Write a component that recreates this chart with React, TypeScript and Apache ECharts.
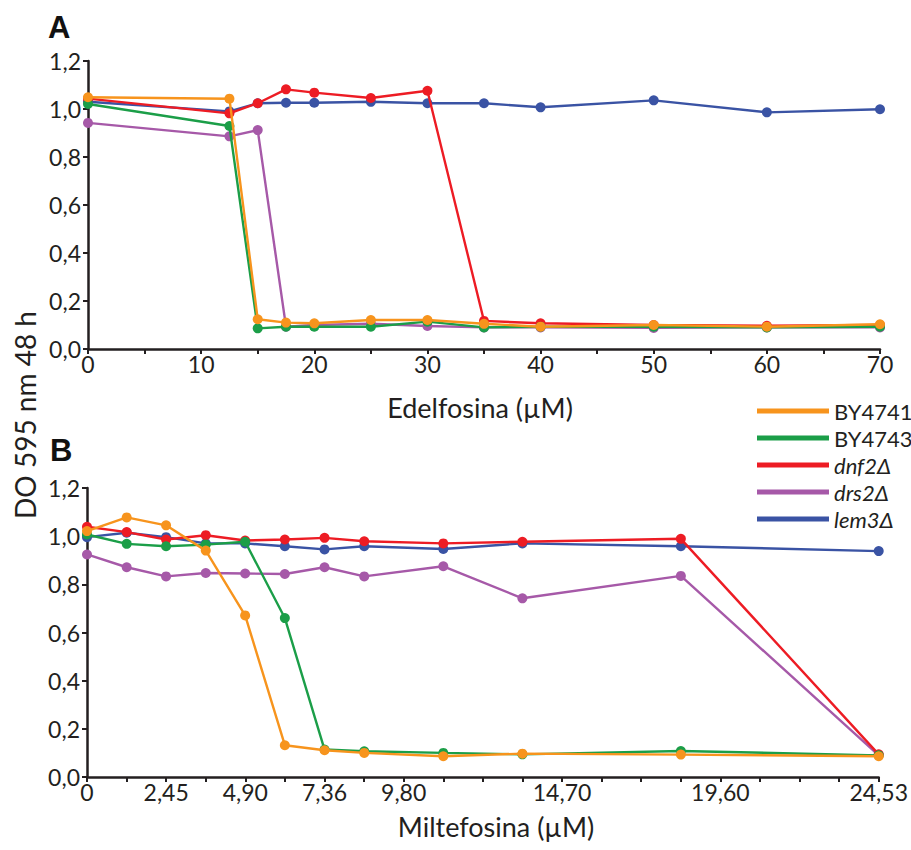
import React, { useEffect, useRef } from "react";
import * as echarts from "echarts";

const seriesNames = ["BY4741", "BY4743", "dnf2Δ", "drs2Δ", "lem3Δ"];
const seriesColors = ["#F7941D", "#1B9E48", "#ED1C24", "#A659A8", "#3A53A4"];

// Panel A: Edelfosina
const edelConc = [0, 12.5, 15, 17.5, 20, 25, 30, 35, 40, 50, 60, 70];
const edelBY4741 = [1.049, 1.043, 0.124, 0.11, 0.107, 0.121, 0.121, 0.105, 0.093, 0.1, 0.093, 0.103];
const edelBY4743 = [1.021, 0.929, 0.086, 0.093, 0.093, 0.093, 0.114, 0.09, 0.093, 0.093, 0.09, 0.093];
const edelDnf2 = [1.043, 0.982, 1.024, 1.082, 1.068, 1.046, 1.076, 0.117, 0.107, 0.1, 0.097, 0.1];
const edelDrs2 = [0.942, 0.886, 0.912, 0.093, 0.1, 0.105, 0.096, 0.09, 0.09, 0.088, 0.09, 0.09];
const edelLem3 = [1.03, 0.99, 1.024, 1.026, 1.026, 1.03, 1.024, 1.024, 1.007, 1.036, 0.986, 0.999];

// Panel B: Miltefosina
const miltConc = [0, 1.23, 2.45, 3.68, 4.9, 6.13, 7.36, 8.59, 11.04, 13.49, 18.4, 24.53];
const miltBY4741 = [1.021, 1.078, 1.045, 0.94, 0.671, 0.132, 0.111, 0.1, 0.086, 0.097, 0.093, 0.086];
const miltBY4743 = [1.007, 0.968, 0.958, 0.965, 0.977, 0.66, 0.114, 0.107, 0.1, 0.094, 0.108, 0.09];
const miltDnf2 = [1.039, 1.017, 0.986, 1.004, 0.982, 0.986, 0.993, 0.979, 0.97, 0.977, 0.989, 0.094];
const miltDrs2 = [0.924, 0.871, 0.833, 0.847, 0.845, 0.843, 0.871, 0.833, 0.875, 0.742, 0.835, 0.09];
const miltLem3 = [0.996, 1.014, 0.996, 0.97, 0.97, 0.958, 0.945, 0.958, 0.947, 0.97, 0.958, 0.938];

const miltMax = 24.53;
const miltTickCount = 20;
const miltTickLabels: Record<number, string> = {
  0: "0",
  2: "2,45",
  4: "4,90",
  6: "7,36",
  8: "9,80",
  12: "14,70",
  16: "19,60",
  20: "24,53",
};

const FONT = "Lato, 'Open Sans', sans-serif";
const INK = "#231F20";

function zip(xs: number[], ys: number[]) {
  return xs.map((x, i) => [x, ys[i]]);
}

export default function App() {
  const ref = useRef<HTMLDivElement>(null);
  useEffect(() => {
    if (!ref.current) return;
    const chart = echarts.init(ref.current, undefined, { renderer: "svg" });
    const step = miltMax / miltTickCount;

    const yAxisCommon = {
      type: "value",
      min: 0,
      max: 1.2,
      interval: 0.2,
      axisLine: { show: true, lineStyle: { color: INK, width: 2.5 } },
      axisTick: { show: true, length: 5, lineStyle: { color: INK, width: 2 } },
      axisLabel: {
        color: INK,
        fontFamily: FONT,
        fontSize: 23,
        margin: 7,
        formatter: (v: number) => v.toFixed(1).replace(".", ","),
      },
      splitLine: { show: false },
    };

    const edelSets = [edelBY4741, edelBY4743, edelDnf2, edelDrs2, edelLem3];
    const miltSets = [miltBY4741, miltBY4743, miltDnf2, miltDrs2, miltLem3];
    const drawOrder = [4, 3, 2, 1, 0];
    const series: any[] = [];
    [edelSets, miltSets].forEach((sets, panel) => {
      const xs = panel === 0 ? edelConc : miltConc;
      drawOrder.forEach((k) => {
        series.push({
          name: seriesNames[k],
          type: "line",
          xAxisIndex: panel,
          yAxisIndex: panel,
          data: zip(xs, sets[k]),
          symbol: "circle",
          symbolSize: 10,
          lineStyle: { width: 2.4, color: seriesColors[k] },
          itemStyle: { color: seriesColors[k] },
          z: 2 + (4 - k),
        });
      });
    });

    const xLabel = {
      color: INK,
      fontFamily: FONT,
      fontSize: 23,
      margin: 3,
      lineHeight: 23,
    };

    chart.setOption({
      animation: false,
      backgroundColor: "#ffffff",
      grid: [
        { left: 88, top: 61, width: 792, height: 288 },
        { left: 87, top: 488, width: 792, height: 289 },
      ],
      xAxis: [
        {
          type: "value",
          gridIndex: 0,
          min: 0,
          max: 70,
          interval: 5,
          axisLine: { show: true, onZero: false, lineStyle: { color: INK, width: 2.5 } },
          axisTick: { show: true, length: 5, lineStyle: { color: INK, width: 2 } },
          axisLabel: {
            ...xLabel,
            formatter: (v: number) => (Math.round(v) % 10 === 0 ? String(Math.round(v)) : ""),
          },
          splitLine: { show: false },
        },
        {
          type: "value",
          gridIndex: 1,
          min: 0,
          max: miltMax,
          interval: step,
          axisLine: { show: true, onZero: false, lineStyle: { color: INK, width: 2.5 } },
          axisTick: { show: true, length: 5, lineStyle: { color: INK, width: 2 } },
          axisLabel: {
            ...xLabel,
            formatter: (v: number) => miltTickLabels[Math.round(v / step)] ?? "",
          },
          splitLine: { show: false },
        },
      ],
      yAxis: [
        { ...yAxisCommon, gridIndex: 0 },
        { ...yAxisCommon, gridIndex: 1 },
      ],
      legend: {
        data: seriesNames,
        orient: "vertical",
        left: 752,
        top: 395,
        icon: "rect",
        itemWidth: 72,
        itemHeight: 5,
        itemGap: 5,
        textStyle: {
          color: INK,
          fontFamily: FONT,
          fontSize: 22,
          lineHeight: 22,
          rich: {
            i: { fontStyle: "italic", fontFamily: FONT, fontSize: 22, color: INK, lineHeight: 22 },
          },
        },
        formatter: (name: string) => (name.endsWith("Δ") ? `{i|${name}}` : name),
      },
      graphic: [
        {
          type: "text",
          left: 48,
          top: 12,
          style: { text: "A", fontFamily: "Arial, 'Liberation Sans', sans-serif", fontWeight: "bold", fontSize: 31, fill: "#111" },
        },
        {
          type: "text",
          left: 50,
          top: 435,
          style: { text: "B", fontFamily: "Arial, 'Liberation Sans', sans-serif", fontWeight: "bold", fontSize: 31, fill: "#111" },
        },
        {
          type: "text",
          x: 480,
          y: 407,
          style: { text: "Edelfosina (µM)", fontFamily: FONT, fontSize: 27, fill: INK, align: "center", verticalAlign: "middle" },
        },
        {
          type: "text",
          x: 496,
          y: 826,
          style: { text: "Miltefosina (µM)", fontFamily: FONT, fontSize: 27, fill: INK, align: "center", verticalAlign: "middle" },
        },
        {
          type: "text",
          x: 25,
          y: 415,
          rotation: Math.PI / 2,
          style: { text: "DO 595 nm 48 h", fontFamily: FONT, fontSize: 28, fill: INK, align: "center", verticalAlign: "middle" },
        },
      ],
      series,
    });
    return () => chart.dispose();
  }, []);
  return (
    <div
      ref={ref}
      style={{ position: "fixed", left: 0, top: 0, width: 911, height: 850, background: "#fff" }}
    />
  );
}
